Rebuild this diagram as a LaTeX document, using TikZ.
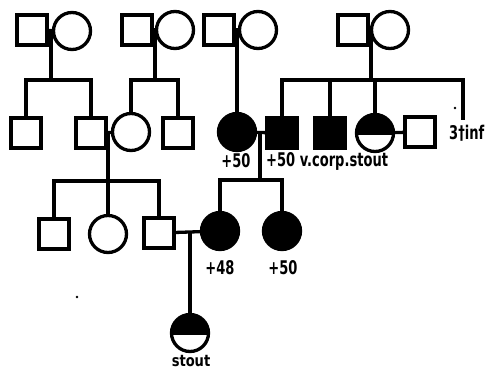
\documentclass[tikz,border=0pt]{standalone}
\usepackage{fontspec}
\newfontfamily\lab{DejaVu Sans Condensed}
\newcommand{\tallt}[1]{\scalebox{1}[1.3]{#1}}
\begin{document}
\begin{tikzpicture}[x=1pt,y=-1pt,
  lw/.style={line width=3.3pt},
  sq/.style={draw,line width=3.3pt,minimum size=30pt,inner sep=0pt},
  ci/.style={draw,circle,line width=3.3pt,minimum size=37pt,inner sep=0pt},
  fsq/.style={sq,fill=black},
  fci/.style={ci,fill=black},
  hci/.style={ci,path picture={\fill (path picture bounding box.north west) rectangle ([yshift=-2pt]path picture bounding box.east);}},
  txt/.style={font=\lab\bfseries\fontsize{14.5}{14.5}\selectfont,inner sep=0pt}]
\useasboundingbox (0,0) rectangle (500,370);
% generation I
\node[sq] (a1) at (32,30) {};
\node[ci] (a2) at (72,31) {};
\node[sq] (b1) at (137,30) {};
\node[ci] (b2) at (175,30) {};
\node[sq] (c1) at (219,30) {};
\node[ci] (c2) at (258,30) {};
\node[sq] (d1) at (353,30) {};
\node[ci] (d2) at (390,30) {};
% generation II
\node[sq] (e1) at (26,133) {};
\node[sq] (e2) at (91,133) {};
\node[ci] (e3) at (131,132) {};
\node[sq] (e4) at (178,133) {};
\node[fci] (f1) at (237,132) {};
\node[fsq] (f2) at (282,133) {};
\node[fsq] (f3) at (330,133) {};
\node[hci] (f4) at (375,133) {};
\node[sq] (f5) at (420,132) {};
\coordinate (inf) at (463,120);
% generation III
\node[sq] (g1) at (54,234) {};
\node[ci] (g2) at (108,234) {};
\node[sq] (g3) at (159,233) {};
\node[fci] (h1) at (220,231) {};
\node[fci] (h2) at (282,231) {};
% generation IV
\node[hci] (i1) at (190,333) {};
% marriage lines and junctions
\coordinate (ma) at (51,31);
\coordinate (mb) at (155,30);
\coordinate (mc) at (237,30);
\coordinate (md) at (371,30);
\coordinate (me) at (108,133);
\coordinate (mf) at (260,133);
\coordinate (mg) at (190,231);
\coordinate (sa) at (51,80);
\coordinate (sb) at (155,80);
\coordinate (sd) at (371,80);
\coordinate (se) at (108,181);
\coordinate (sf) at (260,180);
\draw[lw] (a1) -- (a2);
\draw[lw] (b1) -- (b2);
\draw[lw] (c1) -- (c2);
\draw[lw] (d1) -- (d2);
\draw[lw] (e2) -- (e3);
\draw[lw] (f1) -- (f2);
\draw[lw] (f4) -- (f5);
\draw[lw] (g3) -- (h1);
% descent
\draw[lw] (ma) -- (sa);
\draw[lw] (mb) -- (sb);
\draw[lw] (mc) -- (f1);
\draw[lw] (md) -- (sd);
\draw[lw] (me) -- (se);
\draw[lw] (mf) -- (sf);
\draw[lw] (mg) -- (i1);
% sibships
\draw[lw] (e1) -- (e1|-sa) -- (e2|-sa) -- (e2);
\draw[lw] (e3) -- (e3|-sb) -- (e4|-sb) -- (e4);
\draw[lw] (f2) -- (f2|-sd) -- (inf|-sd) -- (inf);
\draw[lw] (f3) -- (f3|-sd);
\draw[lw] (f4) -- (f4|-sd);
\draw[lw] (g1) -- (g1|-se) -- (g3|-se) -- (g3);
\draw[lw] (g2) -- (g2|-se);
\draw[lw] (h1) -- (h1|-sf) -- (h2|-sf) -- (h2);
% labels
\node[txt] (l1) at (236,161) {\tallt{+50}};
\node[txt,anchor=west] (l2) at (266,161) {\tallt{+50 v.corp.stout}};
\node[txt,anchor=west] (l3) at (449,133) {\tallt{3†inf}};
\node[txt] (l4) at (220,268) {\tallt{+48}};
\node[txt] (l5) at (283,268) {\tallt{+50}};
\node[txt] (l6) at (191,361) {\scalebox{1}[1.1]{stout}};
% specks
\fill (455,108) circle (1.3);
\fill (77,297) circle (1.3);
\end{tikzpicture}
\end{document}
